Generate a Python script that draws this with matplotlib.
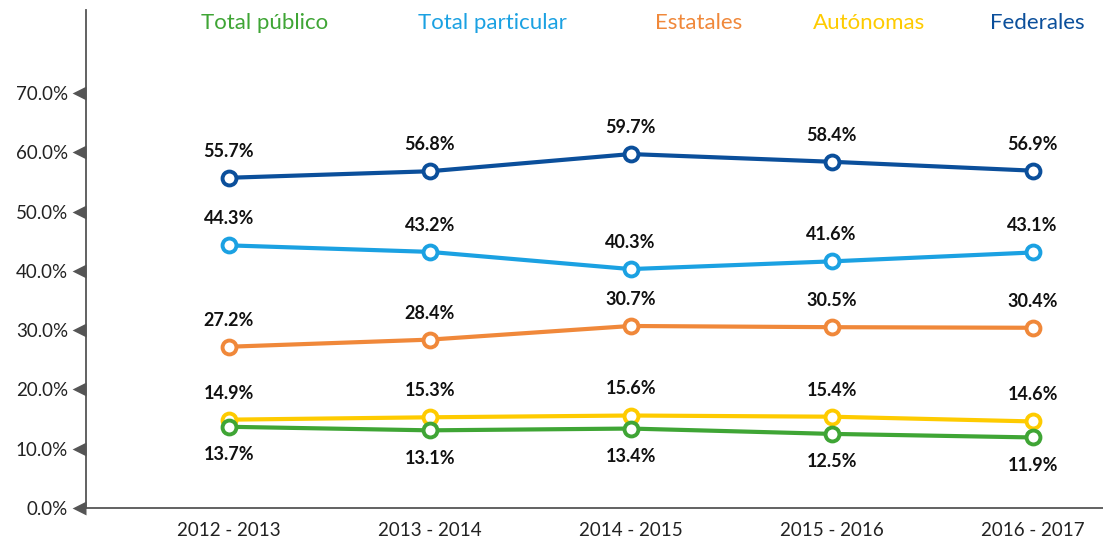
import matplotlib.pyplot as plt
import numpy as np
from matplotlib.path import Path

plt.rcParams["font.family"] = ["Lato", "DejaVu Sans"]

periods = ["2012 - 2013", "2013 - 2014", "2014 - 2015", "2015 - 2016", "2016 - 2017"]
federales = [55.7, 56.8, 59.7, 58.4, 56.9]
particular = [44.3, 43.2, 40.3, 41.6, 43.1]
estatales = [27.2, 28.4, 30.7, 30.5, 30.4]
autonomas = [14.9, 15.3, 15.6, 15.4, 14.6]
publico = [13.7, 13.1, 13.4, 12.5, 11.9]

series = [
    ("Total público", publico, "#3fa535", "below"),
    ("Total particular", particular, "#1ba1e2", "above"),
    ("Estatales", estatales, "#f0883a", "above"),
    ("Autónomas", autonomas, "#fecb00", "above"),
    ("Federales", federales, "#0b4f9b", "above"),
]

fig = plt.figure(figsize=(11.03, 5.39), dpi=100)
ax = fig.add_axes([86 / 1103, 31 / 539, 1 - 86 / 1103, 498 / 539])
x = np.arange(len(periods))

# draw back to front: federales, particular, estatales, autonomas, publico
for name, vals, col, pos in [series[4], series[1], series[2], series[3], series[0]]:
    ax.plot(x, vals, color=col, lw=3, marker="o", ms=10, mfc="white",
            mec=col, mew=2.8, zorder=3)
    for xi, v in zip(x, vals):
        if pos == "above":
            ax.annotate(f"{v:.1f}%", (xi, v), xytext=(0, 13), textcoords="offset points",
                        ha="center", va="bottom", fontsize=13, fontweight="bold", color="#111111")
        else:
            ax.annotate(f"{v:.1f}%", (xi, v), xytext=(0, -14), textcoords="offset points",
                        ha="center", va="top", fontsize=13, fontweight="bold", color="#111111")

# legend as coloured titles
legend_x = [265, 492, 699, 869, 1037]
for (name, vals, col, pos), lx in zip(series, legend_x):
    fig.text(lx / 1103, 1 - 23 / 539, name, color=col, fontsize=16, ha="center", va="center")

ax.set_xlim(-0.71, 4.35)
ax.set_ylim(0, 84)
ax.set_yticks(np.arange(0, 71, 10))
ax.set_yticklabels([f"{t:.1f}%" for t in np.arange(0, 71, 10)])
ax.set_xticks(x)
ax.set_xticklabels(periods)
ax.tick_params(axis="y", length=0, labelsize=13.5, colors="#222222", pad=13)
ax.tick_params(axis="x", length=0, labelsize=13.5, colors="#222222", pad=10)

# triangle tick markers pointing left, base on the spine
tri = Path([(-1, 0), (0, 0.5), (0, -0.5), (-1, 0)],
           [Path.MOVETO, Path.LINETO, Path.LINETO, Path.CLOSEPOLY])
for t in np.arange(0, 71, 10):
    ax.plot(-0.71, t, marker=tri, color="#555555", ms=20, clip_on=False, zorder=5,
            markeredgewidth=0)

for s in ["top", "right"]:
    ax.spines[s].set_visible(False)
ax.spines["left"].set_color("#555555")
ax.spines["bottom"].set_color("#555555")
ax.spines["left"].set_linewidth(1.3)
ax.spines["bottom"].set_linewidth(1.3)

fig.savefig("out.png", dpi=100)
